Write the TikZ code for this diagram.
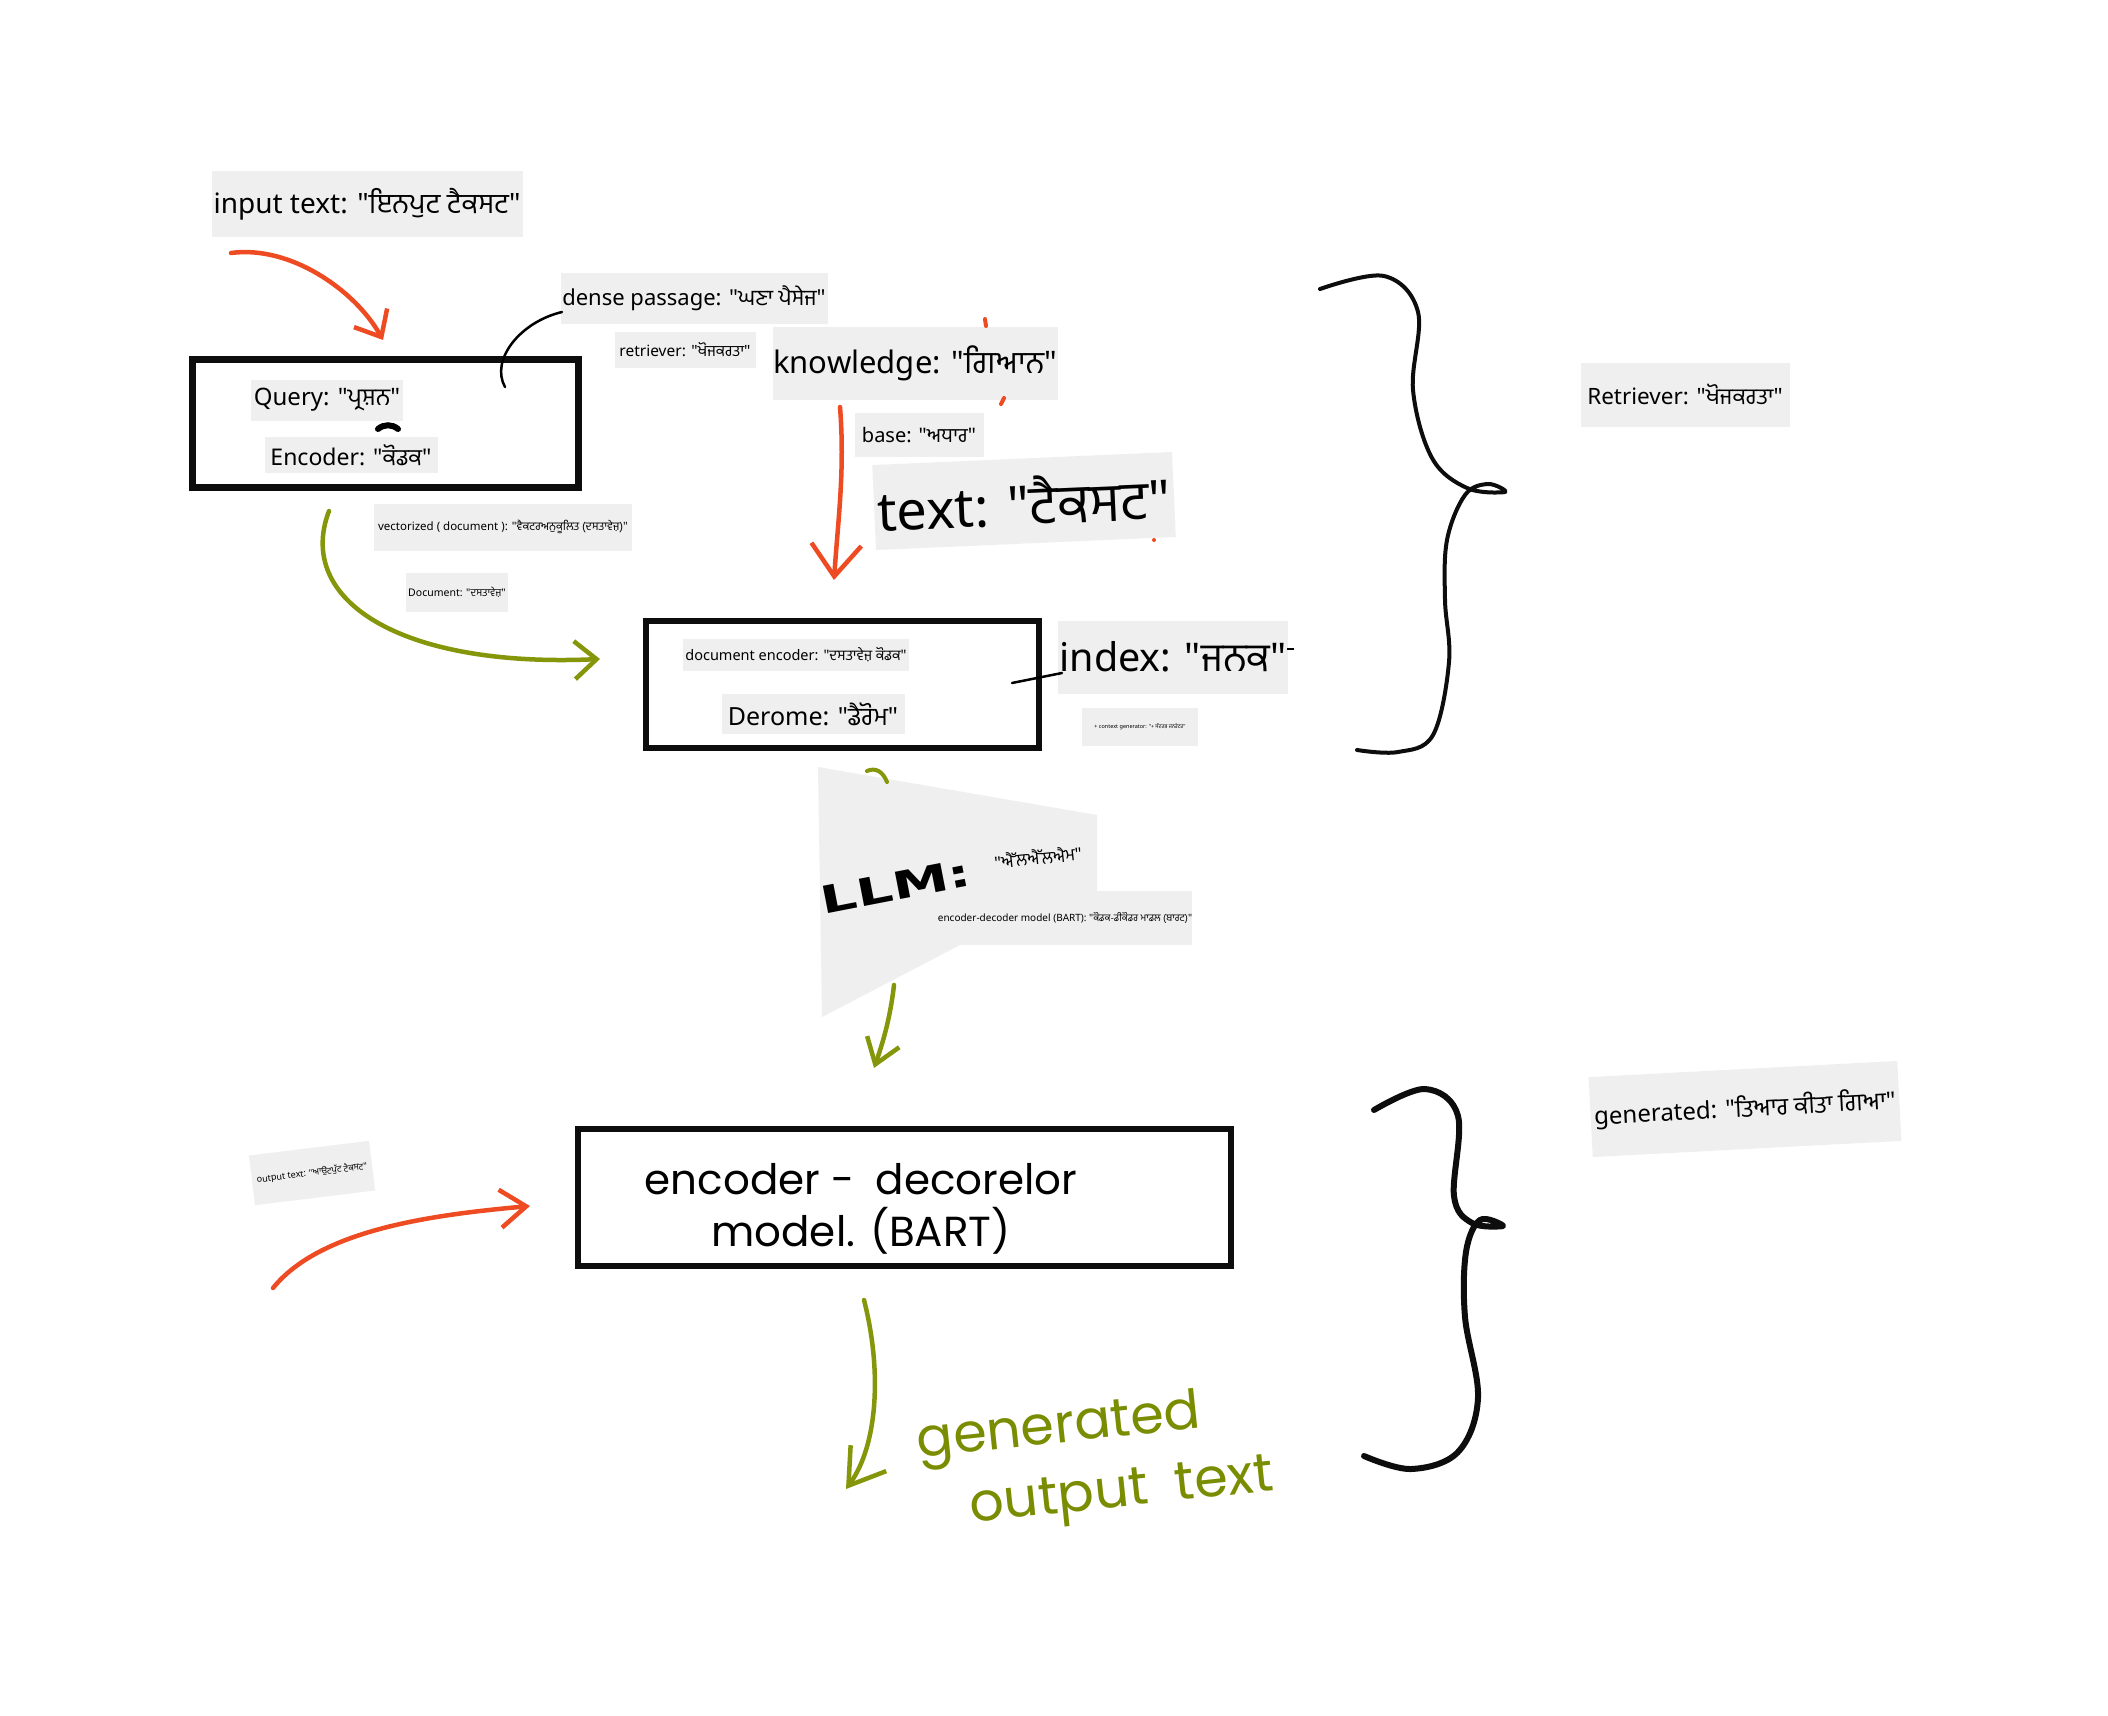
\documentclass[tikz,border=0pt]{standalone}
\usepackage{fontspec}
\setmainfont{Noto Sans}[Ligatures=TeXOff]
\newfontfamily\pa[Script=Gurmukhi]{Hind Jalandhar}
\newfontfamily\hand{Poppins}
\newfontfamily\llmfont{DejaVu Sans}
\usetikzlibrary{arrows.meta}
\definecolor{lbg}{HTML}{EFEFEF}
\definecolor{redor}{HTML}{EE4B22}
\definecolor{olv}{HTML}{86960A}
\definecolor{hgreen}{HTML}{7A8C00}
\newcommand\fsz[1]{\fontsize{#1}{#1}\selectfont}
\begin{document}
\begin{tikzpicture}[x=1pt,y=-1pt,
  lab/.style={fill=lbg, inner sep=0pt, align=center},
  bx/.style={draw=black!95, line width=7, inner sep=0pt},
  redarrow/.style={draw=redor, line width=4.5, line cap=round},
  grnarrow/.style={draw=olv, line width=4.5, line cap=round},
  vtip/.style={-{Straight Barb[length=22pt,width=38pt]}},
  brace/.style={draw=black!95, line cap=round, line join=round}
]
\useasboundingbox (0,0) rectangle (2108,1715);
\fill[white] (0,0) rectangle (2108,1715);

% ---------- boxes ----------
\node[bx, minimum width=386, minimum height=128] (qbox) at (385,423) {};
\node[bx, line width=6, minimum width=393, minimum height=127] (dbox) at (842,684) {};
\node[bx, line width=6, minimum width=653, minimum height=137] (ebox) at (904,1197) {};

% ---------- LLM polygon ----------
\fill[lbg] (818,767) -- (1097,815) -- (1097,900) -- (960,945) -- (822,1017) -- cycle;
\draw[olv, line width=4, line cap=round] (867,771) .. controls (876,767) and (883,772) .. (887,782);

% ---------- labels ----------
\node[lab, minimum width=311, minimum height=66] (intxt) at (367,204) {\fsz{28}input text: "{\pa ਇਨਪੁਟ ਟੈਕਸਟ}"};
\node[lab, minimum width=267, minimum height=51] (dense) at (694,298) {\fsz{22}dense passage: "{\pa ਘਣਾ ਪੈਸੇਜ}"};
\node[lab, minimum width=141, minimum height=36] (retr) at (685,350) {\fsz{15.5}retriever: "{\pa ਖੋਜਕਰਤਾ}"};
\node[lab, minimum width=285, minimum height=73] (know) at (915,363) {\fsz{31}knowledge: "{\pa ਗਿਆਨ}"};
\node[lab, minimum width=129, minimum height=44] (base) at (919,435) {\fsz{20}base: "{\pa ਅਧਾਰ}"};
\node[lab, minimum width=300, minimum height=85, rotate=2.5] (bigtext) at (1024,501) {\fsz{54}text: "{\pa ਟੈਕਸਟ}"};
\node[lab, minimum width=152, minimum height=41] (query) at (327,400) {\fsz{24}Query: "{\pa ਪ੍ਰਸ਼ਨ}"};
\node[lab, minimum width=173, minimum height=36] (encl) at (351,455) {\fsz{23}Encoder: "{\pa ਕੋਡਕ}"};
\node[lab, minimum width=258, minimum height=47] (vect) at (503,527) {\fsz{11.5}vectorized ( document ): "{\pa ਵੈਕਟਰਅਨੁਕੂਲਿਤ (ਦਸਤਾਵੇਜ਼)}"};
\node[lab, minimum width=102, minimum height=39] (docl) at (457,592) {\fsz{10.5}Document: "{\pa ਦਸਤਾਵੇਜ਼}"};
\node[lab, minimum width=226, minimum height=32] (docenc) at (796,655) {\fsz{14.5}document encoder: "{\pa ਦਸਤਾਵੇਜ਼ ਕੋਡਕ}"};
\node[lab, minimum width=183, minimum height=40] (derome) at (813,714) {\fsz{25}Derome: "{\pa ਡੈਰੋਮ}"};
\node[lab, minimum width=230, minimum height=73] (index) at (1173,657) {\fsz{39.5}index: "{\pa ਜਨਕ}"};
\node[lab, minimum width=116, minimum height=38] (ctx) at (1140,727) {\fsz{5.5}+ context generator: "{\pa + ਸੰਦਰਭ ਜਨਰੇਟਰ}"};
\node[lab, minimum width=254, minimum height=54] (edm) at (1065,918) {\fsz{10}encoder-decoder model (BART): "{\pa ਕੋਡਕ-ਡੀਕੋਡਰ ਮਾਡਲ (ਬਾਰਟ)}"};
\node[lab, minimum width=121, minimum height=50, rotate=7] (outtxt) at (312,1173) {\fsz{9}output text: "{\pa ਆਉਟਪੁੱਟ ਟੈਕਸਟ}"};
\node[lab, minimum width=209, minimum height=64] (retR) at (1685,395) {\fsz{22.5}Retriever: "{\pa ਖੋਜਕਰਤਾ}"};
\node[lab, minimum width=309, minimum height=80, rotate=3] (gen) at (1745,1109) {\fsz{24}generated: "{\pa ਤਿਆਰ ਕੀਤਾ ਗਿਆ}"};

% ---------- LLM text ----------
\node[inner sep=0pt, rotate=11, xscale=1.5] (llm) at (896,886) {\llmfont\bfseries\fsz{38}LLM:};
\node[inner sep=0pt, rotate=6] (llmpa) at (1038,857) {\fsz{17}"{\pa ਐੱਲਐੱਲਐਮ}"};

% ---------- handwriting ----------
\node[inner sep=0pt, align=center, font=\hand\fontsize{42}{52}\selectfont] (hw) at (861,1209) {encoder -\enspace decorelor\\model. (BART)};
\node[inner sep=0pt, rotate=6, text=hgreen] (gw1) at (1059,1430) {\hand\fsz{54}generated};
\node[inner sep=0pt, rotate=6, text=hgreen] (gw2) at (1122,1495) {\hand\fsz{54}output\enspace text};

% ---------- connector end points ----------
\coordinate (a1s) at (231,253);
\coordinate (a1e) at (383,340);
\coordinate (c1s) at (562,312);
\coordinate (c1e) at (505,387);
\coordinate (g1s) at (329,511);
\coordinate (g1e) at (600,659);
\coordinate (a2s) at (840,407);
\coordinate (a2e) at (834,580);
\coordinate (ixs) at (1062,673);
\coordinate (ixe) at (1012,683);
\coordinate (g2s) at (894,985);
\coordinate (g2e) at (874,1068);
\coordinate (a3s) at (273,1288);
\coordinate (a3e) at (530,1206);
\coordinate (g3s) at (864,1300);
\coordinate (g3e) at (846,1489);

% ---------- connectors ----------
\draw[redarrow, vtip] (a1s) .. controls (290,245) and (355,290) .. (a1e);
\draw[black, line width=2.5, line cap=round] (c1s) .. controls (520,322) and (490,360) .. (c1e);
\draw[grnarrow, vtip] (g1s) .. controls (295,600) and (400,668) .. (g1e);
\draw[redarrow, -{Straight Barb[length=32pt,width=50pt]}] (a2s) .. controls (845,470) and (838,520) .. (a2e);
\draw[black, line width=2.5, line cap=round] (ixs) -- (ixe);
\draw[black, line width=2] (1287,649) -- (1294,649);
\draw[grnarrow, -{Straight Barb[length=24pt,width=34pt]}] (g2s) .. controls (890,1020) and (882,1045) .. (g2e);
\draw[redarrow, -{Straight Barb[length=26pt,width=38pt]}] (a3s) .. controls (320,1230) and (430,1215) .. (a3e);
\draw[grnarrow, -{Straight Barb[length=34pt,width=44pt]}] (g3s) .. controls (882,1370) and (878,1445) .. (g3e);

% small black mark under Query label
\draw[black, line width=6, line cap=round] (378,429) .. controls (384,424) and (392,424) .. (398,429);

% red stubs around knowledge / text labels
\draw[redor, line width=4, line cap=round] (985,319) -- (986,326);
\draw[redor, line width=4, line cap=round] (1004,398) -- (1001,404);
\fill[redor] (1154,540) circle (2);

% ---------- braces ----------
\draw[brace, line width=4] plot[smooth, tension=0.6] coordinates {
 (1320,289) (1384,276) (1418,312) (1413,390) (1432,458) (1467,488) (1505,492) (1488,484) (1465,495)
 (1447,540) (1445,600) (1449,662) (1433,735) (1398,752) (1357,750)};
\draw[brace, line width=6] plot[smooth, tension=0.6] coordinates {
 (1374,1110) (1425,1089) (1458,1116) (1454,1196) (1472,1223) (1503,1226) (1480,1220) (1466,1252)
 (1465,1317) (1478,1398) (1458,1452) (1411,1469) (1364,1456)};
\end{tikzpicture}
\end{document}
